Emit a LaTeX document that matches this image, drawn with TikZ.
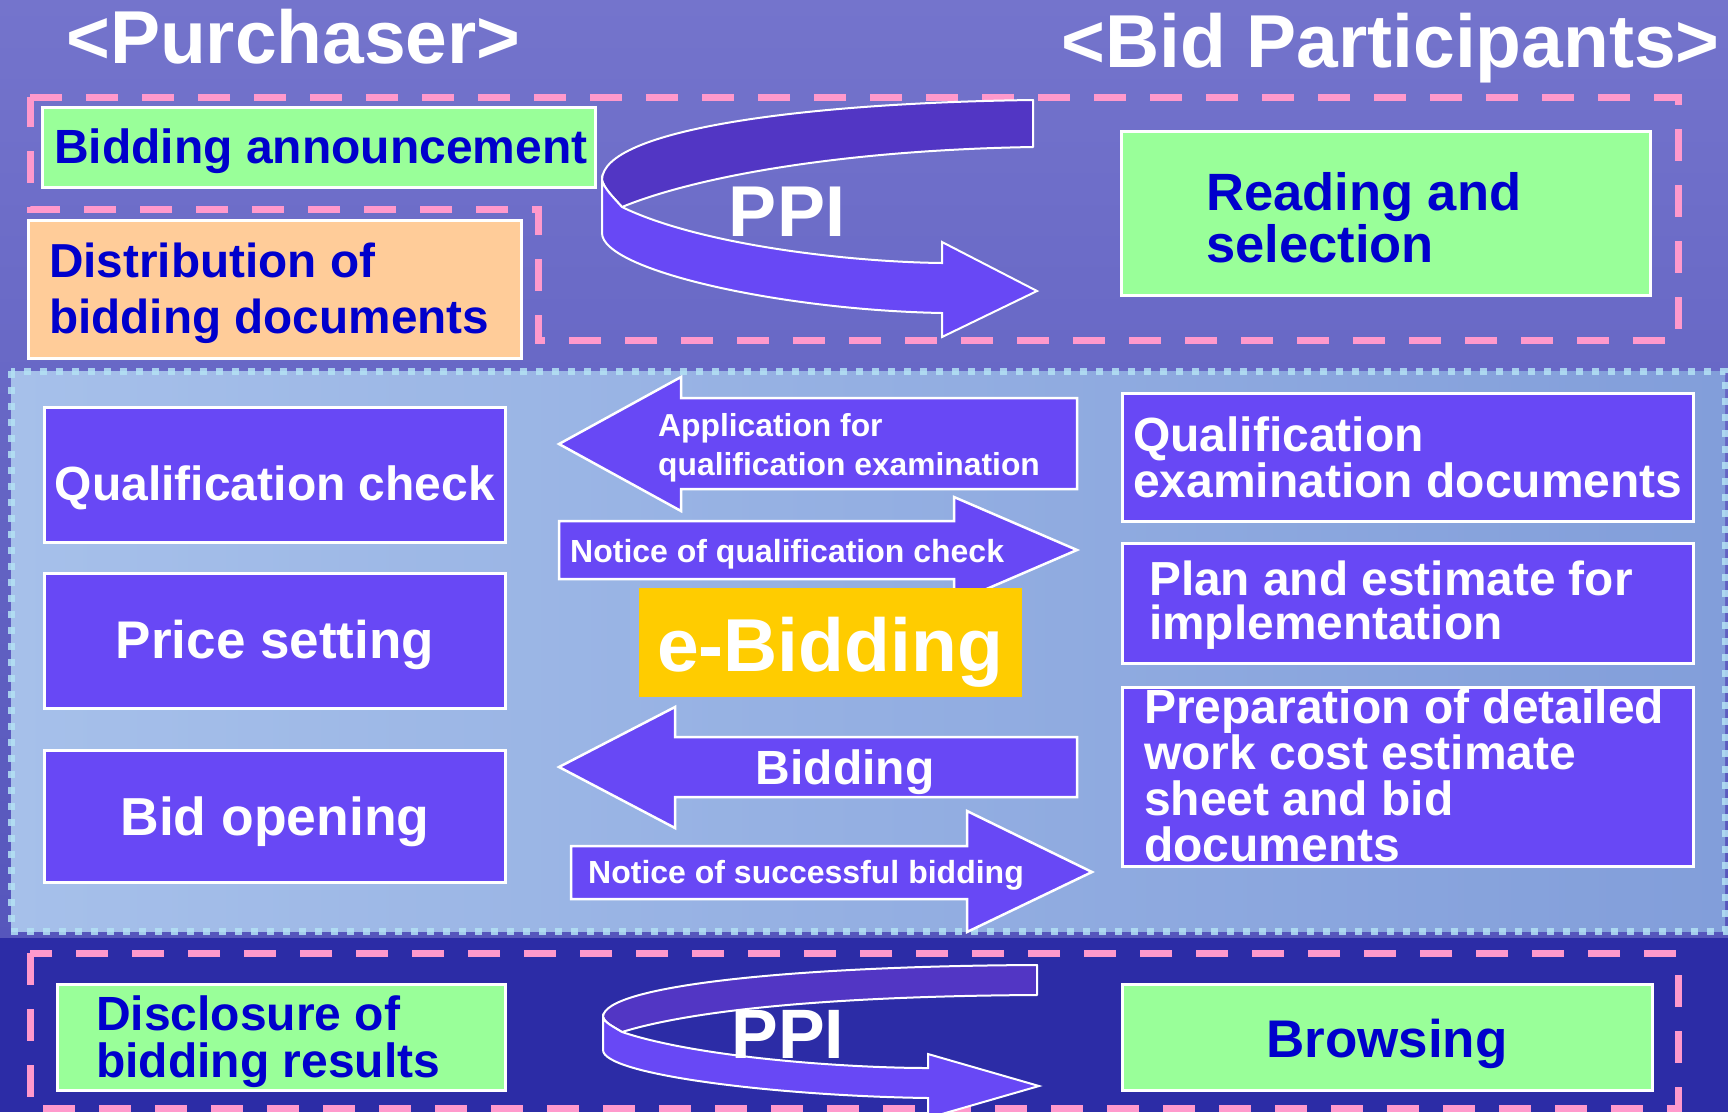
\documentclass[tikz,border=0pt]{standalone}
\usepackage{fontspec}
\setmainfont{Liberation Sans}
\usetikzlibrary{fit}
\definecolor{bgtop}{HTML}{7474CC}
\definecolor{bgmid}{HTML}{5656BC}
\definecolor{bgbottom}{HTML}{2C2CA6}
\definecolor{midL}{HTML}{A6C0EA}
\definecolor{midR}{HTML}{829EDA}
\definecolor{dotcol}{HTML}{B4E2F4}
\definecolor{dashpink}{HTML}{FF99CC}
\definecolor{boxgreen}{HTML}{99FF99}
\definecolor{boxorange}{HTML}{FFCC99}
\definecolor{boxpurple}{HTML}{6848F5}
\definecolor{banddark}{HTML}{5236C4}
\definecolor{textblue}{HTML}{0000CC}
\definecolor{ebidyellow}{HTML}{FFCC00}
\newcommand\myfs[2]{\fontsize{#1}{#2}\selectfont\bfseries}
\tikzset{
  tbox/.style={draw=white, line width=3pt, inner sep=0pt},
  gbox/.style={tbox, fill=boxgreen},
  obox/.style={tbox, fill=boxorange},
  pbox/.style={tbox, fill=boxpurple},
  ybox/.style={fill=ebidyellow, draw=none, inner sep=0pt},
  btxt/.style={text=textblue, inner sep=0pt, align=left},
  wtxt/.style={text=white, inner sep=0pt, align=left},
  blockarrow/.style={fill=boxpurple, draw=white, line width=2.5pt, line join=miter},
  banddk/.style={fill=banddark, draw=white, line width=2pt, line join=round},
  bandlt/.style={fill=boxpurple, draw=white, line width=2pt, line join=miter},
  pinkdash/.style={draw=dashpink, line width=7pt, dash pattern=on 32pt off 24pt},
  dotborder/.style={draw=dotcol, draw opacity=0.85, line width=7pt, dash pattern=on 7pt off 9pt}
}
\begin{document}
\begin{tikzpicture}[x=1pt,y=-1pt]
\useasboundingbox (0,0) rectangle (1728,1112);
\begin{scope}
\clip (0,0) rectangle (1728,1112);
% background
\fill[top color=bgtop, bottom color=bgmid] (0,0) rectangle (1728,942);
\fill[bgbottom] (0,938) rectangle (1728,1112);
% titles
\node[wtxt, font=\myfs{75}{75}, anchor=base west] (purch) at (66,63) {<Purchaser>};
\node[wtxt, font=\myfs{75}{75}, anchor=base west] (bidp) at (1061,67) {<Bid Participants>};
% top dashed region
\draw[pinkdash] (30,97) -- (1678,97) -- (1678,340) -- (538,340) -- (538,209) -- (30,209) -- cycle;
% top boxes
\node[gbox, fit={(42,107) (595,187)}] (bidann) {};
\node[btxt, font=\myfs{48}{48}, anchor=base west] (bidann-t) at (54,163) {Bidding announcement};
\node[obox, fit={(28,220) (521,358)}] (distr) {};
\node[btxt, font=\myfs{47.7}{56}, anchor=base west] (distr-t) at (49,333) {Distribution of\\bidding documents};
\node[gbox, fit={(1121,131) (1650,295)}] (reading) {};
\node[btxt, font=\myfs{52.5}{52}, anchor=base west] (reading-t) at (1206,262) {Reading and\\selection};
% top PPI arrow
\path[banddk] (1033,100) -- (1033,147) .. controls (850,150) and (700,175) .. (622,207)
  .. controls (612,196) and (604,188) .. (602,180) .. controls (602,130) and (800,103) .. (1033,100) -- cycle;
\path[bandlt] (602,180) .. controls (604,188) and (612,196) .. (622,207)
  .. controls (700,245) and (850,262) .. (942,263) -- (942,242) -- (1037,291) -- (942,337) -- (942,313)
  .. controls (780,310) and (602,270) .. (602,233) -- cycle;
\node[wtxt, font=\myfs{72}{72}, anchor=base] (ppi1) at (787,236) {PPI};
% middle region
\fill[left color=midL, right color=midR] (11,371) rectangle (1725,931);
\draw[dotborder] (11,371) rectangle (1725,931);
% left boxes
\node[pbox, fit={(44,407) (505,542)}] (qc) {};
\node[wtxt, font=\myfs{48}{48}, anchor=base] (qc-t) at (275,500) {Qualification check};
\node[pbox, fit={(44,573) (505,708)}] (price) {};
\node[wtxt, font=\myfs{53}{53}, anchor=base] (price-t) at (275,658) {Price setting};
\node[pbox, fit={(44,750) (505,882)}] (bidopen) {};
\node[wtxt, font=\myfs{53.5}{53}, anchor=base] (bidopen-t) at (275,835) {Bid opening};
% right boxes
\node[pbox, fit={(1122,393) (1693,521)}] (qexam) {};
\node[wtxt, font=\myfs{48}{46}, anchor=base west] (qexam-t) at (1133,497) {Qualification\\examination documents};
\node[pbox, fit={(1122,543) (1693,663)}] (plan) {};
\node[wtxt, font=\myfs{47.8}{44}, anchor=base west] (plan-t) at (1149,639) {Plan and estimate for\\implementation};
\node[pbox, fit={(1122,687) (1693,866)}] (prep) {};
\node[wtxt, font=\myfs{48}{45.7}, anchor=base west] (prep-t) at (1144,861) {Preparation of detailed\\work cost estimate\\sheet and bid\\documents};
% block arrows
\path[blockarrow] (559,444) -- (681,377) -- (681,398) -- (1077,398) -- (1077,489) -- (681,489) -- (681,511) -- cycle;
\node[wtxt, font=\myfs{31.8}{39}, anchor=base west] (app-t) at (658,475) {Application for\\qualification examination};
\path[blockarrow] (559,521) -- (954,521) -- (954,497) -- (1077,550) -- (954,603) -- (954,579) -- (559,579) -- cycle;
\node[wtxt, font=\myfs{32}{32}, anchor=base west] (notq-t) at (570,562) {Notice of qualification check};
\node[ybox, fit={(639,588) (1022,697)}] (ebid) {};
\node[wtxt, font=\myfs{75}{75}, anchor=base] (ebid-t) at (830,671) {e-Bidding};
\path[blockarrow] (559,767) -- (675,707) -- (675,737) -- (1077,737) -- (1077,797) -- (675,797) -- (675,828) -- cycle;
\node[wtxt, font=\myfs{48}{48}, anchor=base] (bidding-t) at (845,784) {Bidding};
\path[blockarrow] (571,846) -- (967,846) -- (967,811) -- (1092,872) -- (967,932) -- (967,899) -- (571,899) -- cycle;
\node[wtxt, font=\myfs{32}{32}, anchor=base west] (nots-t) at (588,883) {Notice of successful bidding};
% bottom region
\draw[pinkdash] (30,953) rectangle (1678,1108);
\node[gbox, fit={(57,984) (505,1090)}] (discl) {};
\node[btxt, font=\myfs{48}{47}, anchor=base west] (discl-t) at (96,1077) {Disclosure of\\bidding results};
\node[gbox, fit={(1122,984) (1652,1090)}] (browse) {};
\node[btxt, font=\myfs{53}{53}, anchor=base] (browse-t) at (1387,1057) {Browsing};
% bottom PPI arrow
\path[banddk] (1037,965) -- (1037,995) .. controls (850,996) and (700,1008) .. (622,1032)
  .. controls (612,1026) and (604,1022) .. (603,1017) .. controls (603,985) and (800,966) .. (1037,965) -- cycle;
\path[bandlt] (603,1017) .. controls (604,1022) and (612,1026) .. (622,1032)
  .. controls (700,1058) and (850,1068) .. (928,1068) -- (928,1054) -- (1039,1086) -- (928,1118) -- (928,1098)
  .. controls (780,1096) and (603,1075) .. (603,1050) -- cycle;
\node[wtxt, font=\myfs{70}{70}, anchor=base] (ppi2) at (788,1058) {PPI};
\end{scope}
\end{tikzpicture}
\end{document}
